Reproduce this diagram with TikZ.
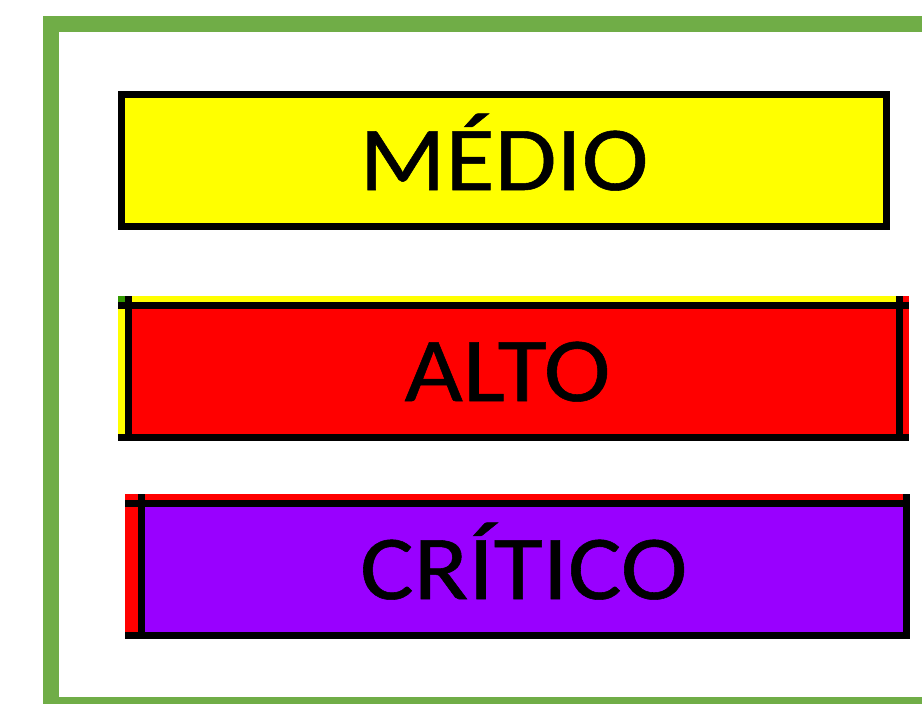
\documentclass[tikz,border=0pt]{standalone}
\usepackage{fontspec}
\setmainfont{Carlito}[FakeStretch=1.1, FakeBold=0.6]
\definecolor{frameGreen}{HTML}{70AD47}
\definecolor{levelYellow}{HTML}{FFFF00}
\definecolor{levelRed}{HTML}{FF0000}
\definecolor{levelViolet}{HTML}{9900FF}
\definecolor{cornerGreen}{HTML}{339900}

\begin{document}
\begin{tikzpicture}[x=0.01cm, y=-0.01cm]
\tikzstyle{level} = [draw=black, line width=0.07cm, inner sep=0pt, text height=0.59cm, text depth=0pt, font=\fontsize{26}{26}\selectfont]
\tikzstyle{rule} = [draw=black, line width=0.07cm]

\useasboundingbox (0,0) rectangle (922,703);
\clip (0,0) rectangle (922,703);
\draw[frameGreen, line width=0.16cm] (51,24) rectangle (960,705);

% medio
\node (Medio) [level, fill=levelYellow, minimum width=7.65cm, minimum height=1.32cm] at (504,160.5) {MÉDIO};

% alto, with the strips of the cell behind it
\fill[levelRed] (118,296) rectangle (909,441);
\fill[levelYellow] (118,296) rectangle (896,302);
\fill[levelYellow] (118,296) rectangle (125,434);
\fill[cornerGreen] (118,296) rectangle (125,302);
\node (Alto) [level, fill=levelRed, minimum width=7.71cm, minimum height=1.32cm] at (514,371.5) {\hspace*{-0.13cm}ALTO};
\draw[rule] (118,305.5) -- (909,305.5);
\draw[rule] (118,437.5) -- (909,437.5);
\draw[rule] (128.5,296) -- (128.5,441);
\draw[rule] (899.5,296) -- (899.5,441);

% critico
\fill[levelRed] (125,494) rectangle (909,639);
\node (Critico) [level, fill=levelViolet, minimum width=7.645cm, minimum height=1.32cm] at (523.75,569.5) {CRÍTICO};
\draw[rule] (125,503.5) -- (909,503.5);
\draw[rule] (125,635.5) -- (909,635.5);
\draw[rule] (141.5,494) -- (141.5,639);
\draw[rule] (906,494) -- (906,639);

\end{tikzpicture}
\end{document}
